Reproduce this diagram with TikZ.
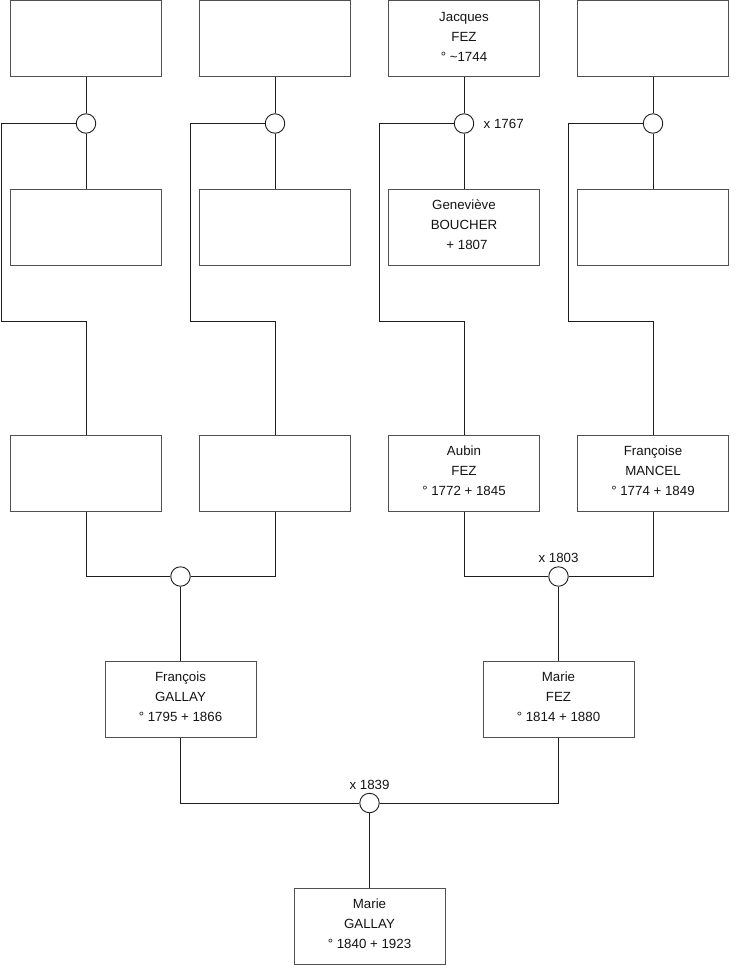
\documentclass[tikz,border=0pt]{standalone}
\usepackage{fontspec}
\setmainfont{Liberation Sans}
\definecolor{boxgray}{RGB}{80,80,80}
\definecolor{linegray}{RGB}{30,30,30}
\definecolor{textgray}{RGB}{20,20,20}
\begin{document}
\begin{tikzpicture}[x=1pt,y=-1pt,
  box/.style={draw=boxgray, line width=1pt, minimum width=151pt, minimum height=76pt, inner sep=0pt, fill=white},
  mar/.style={circle, draw=linegray, line width=0.9pt, fill=white, minimum size=19.5pt, inner sep=0pt},
  link/.style={line width=0.9pt, draw=linegray},
  txt/.style={align=center, font=\fontsize{13.3}{20}\selectfont, text=textgray},
  who/.style={label={[txt,yshift=2pt]center:#1}}]
\useasboundingbox (0,0) rectangle (740,975);
% row 1
\node[box] (t1) at (86,38.5) {};
\node[box] (t2) at (275,38.5) {};
\node[box, who={Jacques\\FEZ\\° \textasciitilde1744}] (t3) at (464,38.5) {};
\node[box] (t4) at (653,38.5) {};
% row 2
\node[box] (s1) at (86,227) {};
\node[box] (s2) at (275,227) {};
\node[box, who={Geneviève\\BOUCHER\\\hspace*{6pt}+ 1807}] (s3) at (464,227) {};
\node[box] (s4) at (653,227) {};
% row 3
\node[box] (b1) at (86,473) {};
\node[box] (b2) at (275,473) {};
\node[box, who={Aubin\\FEZ\\° 1772 + 1845}] (b3) at (464,473) {};
\node[box, who={Françoise\\MANCEL\\° 1774 + 1849}] (b4) at (653,473) {};
% row 4
\node[box, who={François\\GALLAY\\° 1795 + 1866}] (f1) at (180.5,699) {};
\node[box, who={Marie\\FEZ\\° 1814 + 1880}] (f2) at (558.5,699) {};
% row 5
\node[box, who={Marie\\GALLAY\\° 1840 + 1923}] (g) at (369.5,926) {};
% marriage circles
\node[mar] (c1) at (86,123.5) {};
\node[mar] (c2) at (275,123.5) {};
\node[mar] (c3) at (464,123.5) {};
\node[mar] (c4) at (653,123.5) {};
\node[mar] (c5) at (180.5,576.5) {};
\node[mar] (c6) at (558.5,576.5) {};
\node[mar] (c7) at (369.5,803) {};
% marriage labels
\node[txt, anchor=west] (l3) at ([xshift=6pt]c3.east) {x 1767};
\node[txt, anchor=south] (l6) at ([yshift=0pt]c6.north) {x 1803};
\node[txt, anchor=south] (l7) at ([yshift=0pt]c7.north) {x 1839};
% rail corners
\coordinate (r1) at (1,321);
\coordinate (r2) at (190,321);
\coordinate (r3) at (379,321);
\coordinate (r4) at (568,321);
% connectors
\draw[link] (t1) -- (c1) -- (s1);
\draw[link] (t2) -- (c2) -- (s2);
\draw[link] (t3) -- (c3) -- (s3);
\draw[link] (t4) -- (c4) -- (s4);
\draw[link] (c1.west) -| (r1) -| (b1.north);
\draw[link] (c2.west) -| (r2) -| (b2.north);
\draw[link] (c3.west) -| (r3) -| (b3.north);
\draw[link] (c4.west) -| (r4) -| (b4.north);
\draw[link] (b1.south) |- (c5.west);
\draw[link] (b2.south) |- (c5.east);
\draw[link] (b3.south) |- (c6.west);
\draw[link] (b4.south) |- (c6.east);
\draw[link] (c5) -- (f1);
\draw[link] (c6) -- (f2);
\draw[link] (f1.south) |- (c7.west);
\draw[link] (f2.south) |- (c7.east);
\draw[link] (c7) -- (g);
\end{tikzpicture}
\end{document}
